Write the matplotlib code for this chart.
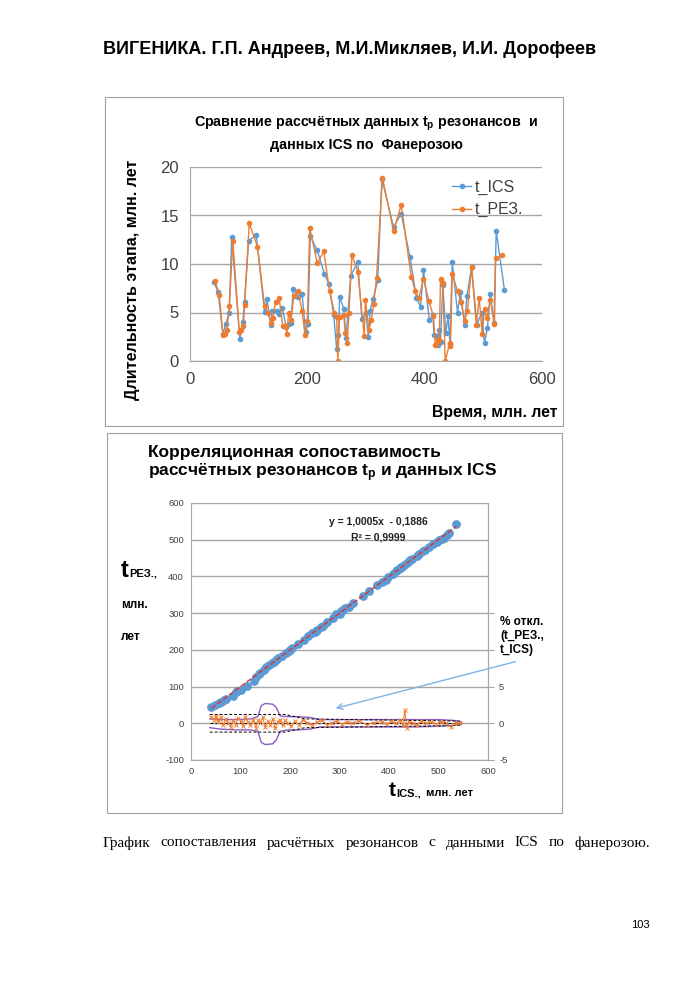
import matplotlib.pyplot as plt
from matplotlib.patches import Rectangle

plt.rcParams['font.family'] = ['Liberation Sans', 'DejaVu Sans']
plt.rcParams['mathtext.fontset'] = 'custom'
plt.rcParams['mathtext.rm'] = 'Liberation Sans'
plt.rcParams['mathtext.bf'] = 'Liberation Sans:bold'
plt.rcParams['axes.unicode_minus'] = False

# --- top chart: stage duration vs time (ICS and resonance model) ---
ics_x = [41, 48, 56, 61, 67, 71, 85, 90, 93, 100, 113, 127, 131, 138, 140, 148, 152, 157,
         164, 168, 172, 176, 184, 191, 197, 201, 205, 217, 229, 237, 245, 250, 253, 255,
         262, 266, 274, 286, 293, 300, 304, 307, 312, 320, 327, 347, 360, 375, 386, 393,
         398, 408, 414, 416, 420, 423, 424, 427, 431, 436, 440, 443, 447, 456, 461, 468,
         472, 480, 489, 497, 502, 507, 512, 518, 522, 536]
ics_y = [8.1, 7.1, 2.8, 3.8, 5.0, 12.8, 2.3, 4.0, 6.1, 12.4, 13.0, 5.1, 6.4, 3.7, 5.2, 5.2, 4.8, 5.5,
         3.5, 3.8, 3.9, 7.4, 6.6, 6.9, 3.0, 3.8, 12.9, 11.4, 9.0, 7.9, 4.7, 1.2, 2.7, 6.6,
         5.4, 2.4, 8.8, 10.2, 4.3, 5.0, 2.5, 5.2, 6.4, 8.3, 18.8, 13.8, 15.2, 10.7, 6.5, 5.6,
         9.4, 4.2, 4.7, 2.7, 2.6, 1.6, 3.2, 2.0, 7.8, 2.9, 4.6, 1.8, 10.2, 5.0, 7.1, 3.7,
         6.7, 9.7, 3.7, 5.0, 1.9, 3.4, 6.9, 3.9, 13.4, 7.3]
rez_x = [43, 50, 56, 59, 63, 67, 73, 84, 87, 91, 93, 101, 115, 127, 133, 138, 141, 146, 152,
         158, 163, 165, 168, 172, 177, 184, 191, 196, 200, 204, 217, 228, 238, 246, 250, 252,
         255, 262, 265, 268, 271, 276, 286, 297, 299, 305, 309, 313, 318, 328, 347, 360, 377,
         384, 390, 398, 407, 415, 418, 421, 423, 425, 427, 431, 435, 443, 444, 447, 456, 462,
         468, 473, 480, 488, 493, 498, 502, 506, 512, 519, 521, 532]
rez_y = [8.2, 6.8, 2.7, 2.8, 3.2, 5.7, 12.4, 3.0, 3.2, 3.6, 5.8, 14.2, 11.8, 5.7, 5.0, 3.9, 4.4, 6.1, 6.5,
         3.6, 3.6, 2.8, 4.9, 4.2, 6.7, 7.2, 5.2, 2.7, 4.1, 13.7, 10.1, 11.3, 7.2, 5.0, 4.5, 0.0,
         4.5, 4.7, 2.9, 1.9, 5.0, 10.9, 9.2, 2.6, 6.3, 3.2, 4.2, 5.9, 8.6, 18.9, 13.4, 16.1, 8.7,
         7.2, 6.5, 8.5, 6.2, 4.6, 1.6, 1.9, 2.3, 2.2, 8.5, 8.0, 0.0, 1.9, 1.5, 9.0, 7.2, 6.1,
         4.1, 5.2, 9.7, 3.7, 6.5, 2.8, 5.4, 4.4, 6.3, 3.8, 10.6, 10.9]

# --- bottom chart: correlation of ages (ICS vs resonance) ---
age_ics = ics_x
age_rez = [43, 50, 56, 59, 63, 67, 73, 84, 87, 91, 101, 115, 127, 133, 138, 146, 152, 158,
           163, 168, 172, 177, 184, 191, 196, 200, 204, 217, 228, 238, 246, 250, 252, 255,
           262, 265, 276, 286, 297, 299, 305, 309, 313, 318, 328, 347, 360, 377, 384, 390,
           398, 407, 415, 418, 421, 423, 425, 427, 430, 436, 443, 444, 447, 456, 462, 468,
           473, 480, 488, 493, 498, 502, 506, 512, 519, 543]
trend_slope = 1.0005
trend_icept = -0.1886

# % deviation (t_РЕЗ., t_ICS), right axis
res_x = [41, 46, 50, 55, 60, 65, 70, 75, 80, 85, 90, 95, 100, 105, 110, 115, 120, 126, 131, 136,
         140, 145, 150, 155, 160, 165, 170, 175, 180, 185, 190, 196, 202, 210, 218, 226, 235, 245,
         255, 265, 275, 285, 295, 305, 315, 325, 340, 355, 370, 385, 395, 405, 415, 422, 428, 432,
         436, 440, 448, 456, 465, 475, 485, 495, 505, 515, 525, 535, 543]
res_val = [0.9, 0.5, 1.0, 0.2, 0.8, -0.3, 0.6, 0.1, -0.5, 0.4, -0.2, 0.7, 0.3, -0.4, 0.9, 0.2, -0.3,
           0.5, -0.6, 0.4, 0.1, 0.8, -0.5, 0.3, -0.2, 0.6, -0.7, 0.2, 0.5, -0.3, 0.4, 0.0, -0.4, 0.3,
           -0.2, 0.5, 0.1, -0.3, 0.2, 0.4, -0.2, 0.1, 0.3, -0.1, 0.2, 0.0, 0.3, -0.2, 0.1, 0.2, -0.1,
           0.3, 0.0, 0.4, -0.3, 1.8, -0.6, 0.2, 0.1, -0.2, 0.3, 0.0, 0.2, -0.1, 0.2, 0.1, -0.5, 0.1, 0.0]
band_x = [38, 60, 90, 120, 135, 142, 150, 165, 172, 180, 195, 215, 240, 260, 300, 350, 400, 450, 500, 530, 545]
band_up = [0.6, 0.5, 0.5, 0.6, 0.9, 2.4, 2.7, 2.6, 2.2, 1.0, 0.9, 0.9, 0.8, 0.5, 0.5, 0.5, 0.5, 0.5, 0.5, 0.4, 0.2]
band_lo = [-0.6, -0.8, -0.9, -0.9, -1.1, -2.6, -2.9, -2.8, -2.3, -1.1, -0.9, -0.9, -0.8, -0.5, -0.5, -0.5,
           -0.5, -0.5, -0.4, -0.3, -0.1]
dash_x = [38, 190, 230, 545]
dash_up = [1.2, 1.2, 0.6, 0.3]
dash_lo = [-1.2, -1.2, -0.6, -0.3]

BLUE = '#5b9bd5'
ORANGE = '#ed7d31'
GRID = '#a6a6a6'
TXT = '#404040'


def fx(px):
    return px / 700


def fy(py):
    return 1 - py / 990


fig = plt.figure(figsize=(7, 9.9), dpi=100)

fig.text(0.5, fy(50), 'ВИГЕНИКА. Г.П. Андреев, М.И.Микляев, И.И. Дорофеев',
         ha='center', va='center', fontsize=13, fontweight='bold')

# frames around the two charts
for x0, y0, x1, y1 in [(105, 97, 563, 426), (107, 433, 562, 813)]:
    fig.add_artist(Rectangle((fx(x0), fy(y1)), fx(x1) - fx(x0), fy(y0) - fy(y1),
                             transform=fig.transFigure, fill=False, ec='#a0a0a0', lw=0.8))

# ---------------- top chart ----------------
ax1 = fig.add_axes([fx(190), fy(361), fx(542) - fx(190), fy(167) - fy(361)])
ax1.plot(ics_x, ics_y, '-o', color=BLUE, ms=3, lw=1.0, label='t_ICS')
ax1.plot(rez_x, rez_y, '-o', color=ORANGE, ms=3, lw=1.0, label='t_РЕЗ.')
ax1.set_xlim(0, 600)
ax1.set_ylim(0, 20)
ax1.set_xticks([0, 200, 400, 600])
ax1.set_yticks([0, 5, 10, 15, 20])
ax1.grid(axis='y', color=GRID, lw=1.0)
ax1.set_axisbelow(True)
for s in ['top', 'right']:
    ax1.spines[s].set_visible(False)
for s in ['left', 'bottom']:
    ax1.spines[s].set_color(GRID)
ax1.tick_params(length=0, labelsize=12, colors=TXT, pad=8)
ax1.legend(loc='upper left', bbox_to_anchor=(fx(444), fy(172)), bbox_transform=fig.transFigure,
           frameon=False, fontsize=11.5, handlelength=1.2, handletextpad=0.2, labelspacing=0.45,
           borderpad=0, labelcolor=TXT)

fig.text(fx(366), fy(124), 'Сравнение рассчётных данных $\\mathbf{t_p}$ резонансов  и',
         ha='center', va='center', fontsize=10.3, fontweight='bold')
fig.text(fx(366), fy(145), 'данных ICS по  Фанерозою',
         ha='center', va='center', fontsize=10.3, fontweight='bold')
fig.text(fx(133), fy(280), 'Длительность этапа, млн. лет', rotation=90,
         ha='center', va='center', fontsize=11.6, fontweight='bold')
fig.text(fx(557), fy(413), 'Время, млн. лет', ha='right', va='center',
         fontsize=11.3, fontweight='bold')

# ---------------- bottom chart ----------------
ax2 = fig.add_axes([fx(191), fy(760), fx(488) - fx(191), fy(503) - fy(760)])
ax2.scatter(age_ics, age_rez, s=28, color=BLUE, zorder=3)
ax2.plot([age_ics[0], age_ics[-1]],
         [trend_slope * age_ics[0] + trend_icept, trend_slope * age_ics[-1] + trend_icept],
         '--', color='#e03030', lw=1.0, zorder=4)
ax2.set_xlim(0, 600)
ax2.set_ylim(-100, 600)
ax2.set_xticks(range(0, 601, 100))
ax2.set_yticks(range(-100, 601, 100))
ax2.grid(axis='y', color=GRID, lw=1.0)
ax2.set_axisbelow(True)
ax2.spines['top'].set_visible(False)
for s in ['left', 'bottom', 'right']:
    ax2.spines[s].set_color(GRID)
ax2.tick_params(length=0, labelsize=6.8, colors=TXT, pad=5)

ax3 = ax2.twinx()
ax3.set_ylim(-5, 30)
ax3.set_yticks([-5, 0, 5, 10, 15])
ax3.set_yticklabels(['-5', '0', '5', '', ''])
ax3.tick_params(axis='y', direction='out', length=4, color=GRID, labelsize=6.8,
                labelcolor=TXT, pad=4)
for s in ['top', 'left', 'bottom']:
    ax3.spines[s].set_visible(False)
ax3.spines['right'].set_color(GRID)
ax3.plot(band_x, band_up, color='#8a5cc2', lw=1.0)
ax3.plot(band_x, band_lo, color='#8a5cc2', lw=1.0)
ax3.plot(dash_x, dash_up, '--', color='black', lw=0.7, dashes=(3, 2))
ax3.plot(dash_x, dash_lo, '--', color='black', lw=0.7, dashes=(3, 2))
ax3.plot([38, 545], [0, 0], '--', color='black', lw=0.7, dashes=(3, 2))
ax3.plot(res_x, res_val, '-', color=ORANGE, lw=0.8, marker='x', ms=2.5, mew=0.7)

fig.text(fx(148), fy(452), 'Корреляционная сопоставимость', ha='left', va='center',
         fontsize=12.5, fontweight='bold')
fig.text(fx(148), fy(473), 'рассчётных резонансов $\\mathbf{t_p}$ и данных ICS', ha='left',
         va='center', fontsize=12.5, fontweight='bold')
fig.text(fx(378), fy(522), 'y = 1,0005x  - 0,1886', ha='center', va='center',
         fontsize=7.5, fontweight='bold', color='#222222')
fig.text(fx(378), fy(538), 'R² = 0,9999', ha='center', va='center',
         fontsize=7.5, fontweight='bold', color='#222222')

fig.text(fx(121), fy(577), 't', ha='left', va='baseline', fontsize=17, fontweight='bold')
fig.text(fx(129), fy(577), 'РЕЗ.,', ha='left', va='baseline', fontsize=8, fontweight='bold')
fig.text(fx(121), fy(605), 'млн.', ha='left', va='center', fontsize=8.5, fontweight='bold')
fig.text(fx(121), fy(637), 'лет', ha='left', va='center', fontsize=8.5, fontweight='bold')

fig.text(fx(389), fy(796), 't', ha='left', va='baseline', fontsize=15, fontweight='bold')
fig.text(fx(396), fy(796), 'ICS.,', ha='left', va='baseline', fontsize=8, fontweight='bold')
fig.text(fx(423), fy(796), ' млн. лет', ha='left', va='baseline', fontsize=8, fontweight='bold')

fig.text(fx(500), fy(636), '% откл.\n(t_РЕЗ.,\nt_ICS)', ha='left', va='center',
         fontsize=8.5, fontweight='bold', linespacing=1.25,
         bbox=dict(facecolor='white', edgecolor='none', pad=1))
ax2.annotate('', xy=(fx(333), fy(709)), xycoords='figure fraction',
             xytext=(fx(518), fy(661)), textcoords='figure fraction',
             arrowprops=dict(arrowstyle='->', color='#7fb2e5', lw=1.0))

# caption, justified between the page margins
words = ['График', 'сопоставления', 'расчётных', 'резонансов', 'с', 'данными', 'ICS', 'по', 'фанерозою.']
texts = [fig.text(0, fy(843), w, ha='left', va='center', fontsize=11,
                  family='Liberation Serif') for w in words]
renderer = fig.canvas.get_renderer()
widths = [t.get_window_extent(renderer).width for t in texts]
gap = (650 - 103 - sum(widths)) / (len(words) - 1)
pos = 103
for t, w in zip(texts, widths):
    t.set_x(fx(pos))
    pos += w + gap
fig.text(fx(650), fy(925), '103', ha='right', va='center', fontsize=8)

fig.savefig('out.png', dpi=100)
